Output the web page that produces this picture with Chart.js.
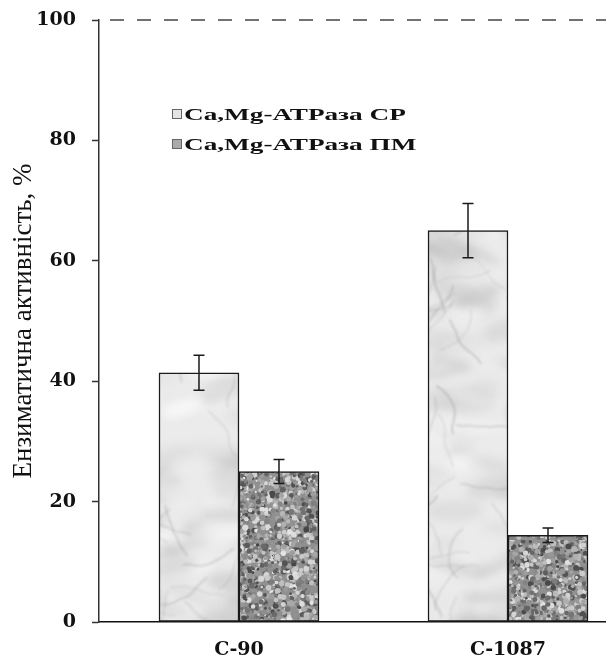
<!DOCTYPE html>
<html>
<head>
<meta charset="utf-8">
<script src="https://cdn.jsdelivr.net/npm/chart.js@4.4.1/dist/chart.umd.min.js"></script>
<style>
html, body { margin: 0; padding: 0; background: #fff; overflow: hidden; }
</style>
</head>
<body>
<canvas id="myChart" width="606" height="657"></canvas>
<script>
var categories = ["C-90", "C-1087"];
var seriesNames = ["Ca,Mg-АТРаза СР", "Ca,Mg-АТРаза ПМ"];
var srValues = [41.4, 65.0];
var srErrors = [2.9, 4.5];
var pmValues = [25.0, 14.4];
var pmErrors = [2.0, 1.2];
var yTicks = [0, 20, 40, 60, 80, 100];
var yTitle = "Ензиматична активність, %";

// small seeded generator, only used for the bar textures
function rng(seed) {
    return function () {
        seed = seed + 0x6D2B79F5 | 0;
        var t = Math.imul(seed ^ seed >>> 15, 1 | seed);
        t = t + Math.imul(t ^ t >>> 7, 61 | t) ^ t;
        return ((t ^ t >>> 14) >>> 0) / 4294967296;
    };
}

var ctx = document.getElementById('myChart').getContext('2d');

function makeMarble() {
    var c = document.createElement('canvas');
    c.width = 606; c.height = 657;
    var g = c.getContext('2d');
    var r = rng(11);
    g.fillStyle = '#ebebeb';
    g.fillRect(0, 0, c.width, c.height);
    g.filter = 'blur(5px)';
    for (var i = 0; i < 800; i++) {
        var s = 185 + Math.floor(r() * 70);
        g.fillStyle = 'rgba(' + s + ',' + s + ',' + s + ',0.55)';
        g.beginPath();
        g.ellipse(r() * c.width, r() * c.height, 10 + r() * 26, 3 + r() * 8, -0.4 + r() * 0.8, 0, Math.PI * 2);
        g.fill();
    }
    g.filter = 'blur(1px)';
    for (i = 0; i < 200; i++) {
        var x = r() * c.width, y = r() * c.height, a = r() * Math.PI * 2;
        g.strokeStyle = 'rgba(145,145,145,' + (0.15 + r() * 0.3) + ')';
        g.lineWidth = 0.8 + r() * 1.4;
        g.beginPath();
        g.moveTo(x, y);
        for (var k = 0; k < 8; k++) {
            a += (r() - 0.5) * 0.8;
            x += Math.cos(a) * 7; y += Math.sin(a) * 7;
            g.lineTo(x, y);
        }
        g.stroke();
    }
    g.filter = 'none';
    return ctx.createPattern(c, 'no-repeat');
}

function makeGranite() {
    var c = document.createElement('canvas');
    c.width = 180; c.height = 180;
    var g = c.getContext('2d');
    var r = rng(5);
    g.fillStyle = '#909090';
    g.fillRect(0, 0, c.width, c.height);
    g.filter = 'blur(0.7px)';
    for (var i = 0; i < 3400; i++) {
        var s = 70 + Math.floor(r() * 160);
        g.fillStyle = 'rgb(' + s + ',' + s + ',' + s + ')';
        g.beginPath();
        g.arc(r() * c.width, r() * c.height, 1 + r() * 2, 0, Math.PI * 2);
        g.fill();
    }
    g.filter = 'none';
    return ctx.createPattern(c, 'repeat');
}

var refLine = {
    id: 'refLine',
    beforeDatasetsDraw: function (chart) {
        var y = chart.scales.y.getPixelForValue(100);
        var c = chart.ctx;
        c.save();
        c.strokeStyle = '#444';
        c.lineWidth = 1.5;
        c.setLineDash([14, 13]);
        c.beginPath();
        c.moveTo(chart.chartArea.left + 11, y);
        c.lineTo(chart.width, y);
        c.stroke();
        c.restore();
    }
};

var errorBars = {
    id: 'errorBars',
    afterDatasetsDraw: function (chart) {
        var c = chart.ctx, ys = chart.scales.y;
        c.save();
        c.strokeStyle = '#1a1a1a';
        c.lineWidth = 1.5;
        chart.data.datasets.forEach(function (ds, di) {
            chart.getDatasetMeta(di).data.forEach(function (bar, i) {
                var v = ds.data[i].y, e = ds.errors[i];
                var top = ys.getPixelForValue(v + e), bot = ys.getPixelForValue(v - e);
                c.beginPath();
                c.moveTo(bar.x, top); c.lineTo(bar.x, bot);
                c.moveTo(bar.x - 5.5, top); c.lineTo(bar.x + 5.5, top);
                c.moveTo(bar.x - 5.5, bot); c.lineTo(bar.x + 5.5, bot);
                c.stroke();
            });
        });
        c.restore();
    }
};

var legendBox = {
    id: 'legendBox',
    afterDraw: function (chart) {
        var c = chart.ctx, a = chart.chartArea;
        var fills = ['#e4e4e4', '#ababab'];
        c.save();
        chart.data.datasets.forEach(function (ds, i) {
            var cy = a.top + 94 + i * 30;
            c.fillStyle = fills[i];
            c.strokeStyle = '#666';
            c.lineWidth = 1;
            c.fillRect(a.left + 73, cy - 5, 10, 10);
            c.strokeRect(a.left + 73.5, cy - 4.5, 9, 9);
            c.save();
            c.translate(a.left + 85, cy + 5.5);
            c.scale(1.65, 1);
            c.fillStyle = '#111';
            c.font = 'bold 16.5px "Liberation Serif"';
            c.textBaseline = 'alphabetic';
            c.fillText(ds.label, 0, 0);
            c.restore();
        });
        c.restore();
    }
};

var tickFont = { family: 'DejaVu Serif', weight: 'bold', size: 19, lineHeight: 1 };

var myChart = new Chart(ctx, {
    type: 'bar',
    data: {
        datasets: [{
            label: seriesNames[0],
            data: srValues.map(function (v, i) { return { x: i, y: v }; }),
            errors: srErrors,
            backgroundColor: makeMarble(),
            borderColor: '#1a1a1a',
            borderWidth: 1.5,
            borderSkipped: false,
            barThickness: 80
        }, {
            label: seriesNames[1],
            data: pmValues.map(function (v, i) { return { x: i, y: v }; }),
            errors: pmErrors,
            backgroundColor: makeGranite(),
            borderColor: '#1a1a1a',
            borderWidth: 1.5,
            borderSkipped: false,
            barThickness: 80
        }]
    },
    options: {
        responsive: false,
        animation: false,
        devicePixelRatio: 1,
        layout: { padding: { top: 20, left: 10, right: 0, bottom: 0 } },
        plugins: { legend: { display: false }, tooltip: { enabled: false } },
        scales: {
            x: {
                type: 'linear',
                offset: false,
                min: -0.5204,
                max: 1.3643,
                grid: { display: false },
                border: { display: true, color: '#111', width: 1.5 },
                afterBuildTicks: function (s) {
                    s.ticks = categories.map(function (c, i) { return { value: i }; });
                },
                afterFit: function (s) { s.height = 35; },
                ticks: {
                    callback: function (v) { return categories[v]; },
                    autoSkip: false,
                    maxRotation: 0,
                    padding: 11,
                    color: '#111',
                    font: tickFont
                }
            },
            y: {
                min: 0,
                max: 100,
                afterBuildTicks: function (s) {
                    s.ticks = yTicks.map(function (v) { return { value: v }; });
                },
                afterFit: function (s) {
                    s.width = 89;
                    s.paddingTop = 0;
                    s.paddingBottom = 0;
                },
                grid: { drawOnChartArea: false, tickLength: 7, tickColor: '#333', tickWidth: 1.5 },
                border: { color: '#333', width: 1.5 },
                ticks: { padding: 16, color: '#111', font: tickFont },
                title: {
                    display: true,
                    text: yTitle,
                    color: '#111',
                    padding: 0,
                    font: { family: 'Liberation Serif', size: 27, lineHeight: 1 }
                }
            }
        }
    },
    plugins: [refLine, errorBars, legendBox]
});
</script>
</body>
</html>
